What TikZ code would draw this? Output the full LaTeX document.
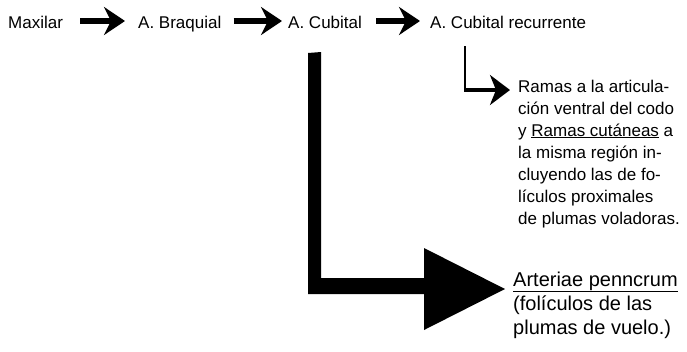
\documentclass[tikz,border=0pt]{standalone}
\usepackage{fontspec}
\setmainfont{Liberation Sans}
\usetikzlibrary{arrows.meta,calc}
\begin{document}
\begin{tikzpicture}[x=1pt,y=-1pt,
  lbl/.style={inner sep=0pt, anchor=base west, font=\fontsize{17}{20}\selectfont},
  big/.style={inner sep=0pt, anchor=base west, font=\fontsize{20}{24}\selectfont},
  fatarrow/.style={line width=6pt, -{Stealth[length=21pt,width=28pt,inset=7pt]}},
  elbowarrow/.style={line width=4pt, -{Stealth[length=20pt,width=30pt,inset=6pt]}},
]
\useasboundingbox (0,0) rectangle (687,351);
% top row
\node[lbl] (max) at (8,28) {Maxilar};
\node[lbl] (braq) at (138,28) {A. Braquial};
\node[lbl] (cub) at (288,28) {A. Cubital};
\node[lbl] (rec) at (430,28) {A. Cubital recurrente};
\draw[fatarrow] ($(max.base east)+(17,-7)$) -- ($(braq.base west)+(-13,-7)$);
\draw[fatarrow] ($(braq.base east)+(12,-7)$) -- ($(cub.base west)+(-6,-7)$);
\draw[fatarrow] ($(cub.base east)+(14,-7)$) -- ($(rec.base west)+(-10,-7)$);
% right block
\node[lbl] (r1) at (518,92) {Ramas a la articula-};
\node[lbl] (r2) at (518,114) {ción ventral del codo};
\node[lbl] (r3) at (518,136) {y \underline{Ramas cutáneas} a};
\node[lbl] (r4) at (518,158) {la misma región in-};
\node[lbl] (r5) at (518,180) {cluyendo las de fo-};
\node[lbl] (r6) at (518,202) {lículos proximales};
\node[lbl] (r7) at (518,224) {de plumas voladoras.};
% elbow connector
\coordinate (e0) at (465,46);
\coordinate (e1) at (465,90);
\draw[line width=2pt] (e0) -- (e1);
\draw[elbowarrow] (464,90) -- ($(r1.base west)+(-8,-2)$);
% bottom block
\node[big] (pen) at (513,286) {\underline{Arteriae penncrum}};
\node[big] (p2) at (513,310) {(folículos de las};
\node[big] (p3) at (513,334) {plumas de vuelo.)};
% big arrow
\coordinate (btip) at ($(pen.base west)+(-8,3)$);
\fill (308,53) -- (321,52) -- (321,278) -- (424,278) -- (424,248) -- (btip) -- (424,330) -- (424,294) -- (308,294) -- cycle;
\end{tikzpicture}
\end{document}
